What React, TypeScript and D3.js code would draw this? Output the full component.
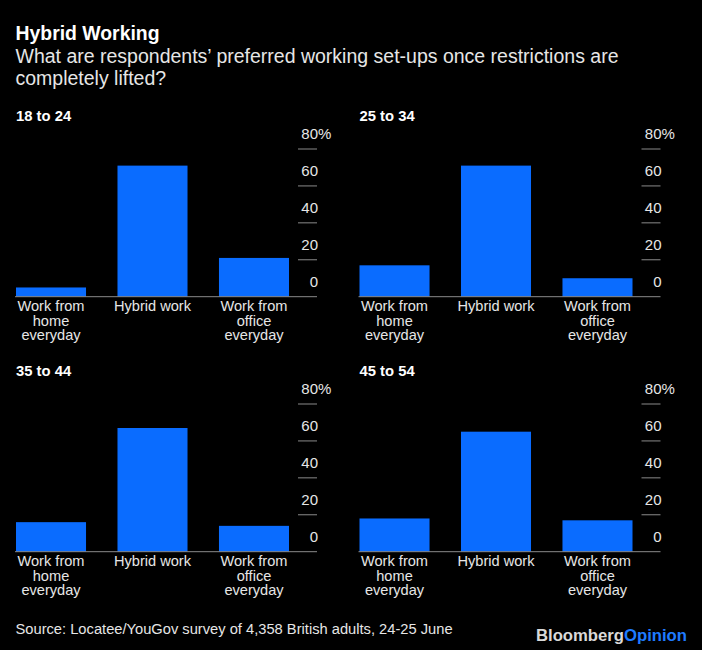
import React from "react";
import * as d3 from "d3";

const title = "Hybrid Working";
const subtitleLines = [
  "What are respondents\u2019 preferred working set-ups once restrictions are",
  "completely lifted?",
];
const source = "Source: Locatee/YouGov survey of 4,358 British adults, 24-25 June";

const categories = ["Work from home everyday", "Hybrid work", "Work from office everyday"];
const categoryLines = [["Work from", "home", "everyday"], ["Hybrid work"], ["Work from", "office", "everyday"]];
const ageGroups = ["18 to 24", "25 to 34", "35 to 44", "45 to 54"];
const values18to24 = [5, 71, 21];
const values25to34 = [17, 71, 10];
const values35to44 = [16, 67, 14];
const values45to54 = [18, 65, 17];
const panelValues = [values18to24, values25to34, values35to44, values45to54];
const yTicks = [0, 20, 40, 60, 80];

const W = 702;
const H = 650;
const FONT = "'Liberation Sans', Arial, Helvetica, sans-serif";
const BLUE = "#0a6cff";
const TEXT = "#e6e6e6";
const GREY = "#8a8a8a";

const panelOffsetsX = [0, 343.5];
const panelOffsetsY = [0, 255];

function Panel({ label, values, ox, oy }: { label: string; values: number[]; ox: number; oy: number }) {
  const x = d3.scaleBand<string>().domain(categories).range([16, 289]).paddingInner(0.31).paddingOuter(0);
  const y = d3.scaleLinear().domain([0, 80]).range([296.7, 149]);
  const axisX1 = 298;
  const axisX2 = 317;
  return (
    <g transform={`translate(${ox},${oy})`}>
      <text x={16} y={120.7} fill="#ffffff" fontFamily={FONT} fontWeight="bold" fontSize={14.8}>
        {label}
      </text>
      {values.map((v, i) => (
        <rect
          key={i}
          x={x(categories[i])}
          y={y(v)}
          width={x.bandwidth()}
          height={y(0) - y(v)}
          fill={BLUE}
        />
      ))}
      {yTicks.filter((t) => t > 0).map((t) => (
        <line key={t} x1={axisX1} x2={axisX2} y1={y(t)} y2={y(t)} stroke={GREY} strokeWidth={1} />
      ))}
      <line x1={15} x2={axisX2} y1={y(0)} y2={y(0)} stroke={GREY} strokeWidth={1} />
      {yTicks.map((t) => (
        <g key={"l" + t}>
          <text
            x={axisX2 + 1}
            y={y(t) - 10}
            fill={TEXT}
            fontFamily={FONT}
            fontSize={15}
            textAnchor="end"
          >
            {t}
          </text>
          {t === 80 && (
            <text x={axisX2 + 1} y={y(t) - 10} fill={TEXT} fontFamily={FONT} fontSize={15}>
              %
            </text>
          )}
        </g>
      ))}
      {categories.map((c, i) => (
        <text
          key={c}
          x={(x(c) as number) + x.bandwidth() / 2}
          y={y(0) + 14}
          fill={TEXT}
          fontFamily={FONT}
          fontSize={14.6}
          textAnchor="middle"
        >
          {categoryLines[i].map((ln, j) => (
            <tspan key={j} x={(x(c) as number) + x.bandwidth() / 2} dy={j === 0 ? 0 : 14.8}>
              {ln}
            </tspan>
          ))}
        </text>
      ))}
    </g>
  );
}

export default function App() {
  return (
    <svg
      width={W}
      height={H}
      viewBox={`0 0 ${W} ${H}`}
      style={{ position: "fixed", left: 0, top: 0, display: "block" }}
    >
      <rect x={0} y={0} width={W} height={H} fill="#000000" />
      <text x={15.5} y={39.5} fill="#ffffff" fontFamily={FONT} fontWeight="bold" fontSize={19.4}>
        {title}
      </text>
      {subtitleLines.map((s, i) => (
        <text key={i} x={15.5} y={63.3 + i * 21.3} fill={TEXT} fontFamily={FONT} fontSize={19.5}>
          {s}
        </text>
      ))}
      {ageGroups.map((g, i) => (
        <Panel
          key={g}
          label={g}
          values={panelValues[i]}
          ox={panelOffsetsX[i % 2]}
          oy={panelOffsetsY[Math.floor(i / 2)]}
        />
      ))}
      <text x={15.5} y={634} fill={TEXT} fontFamily={FONT} fontSize={14.7}>
        {source}
      </text>
      <text x={536} y={640.5} fontFamily={FONT} fontWeight="bold" fontSize={16} textLength={151} lengthAdjust="spacingAndGlyphs">
        <tspan fill="#d9d9d9">Bloomberg</tspan>
        <tspan fill="#1f7bff">Opinion</tspan>
      </text>
    </svg>
  );
}
